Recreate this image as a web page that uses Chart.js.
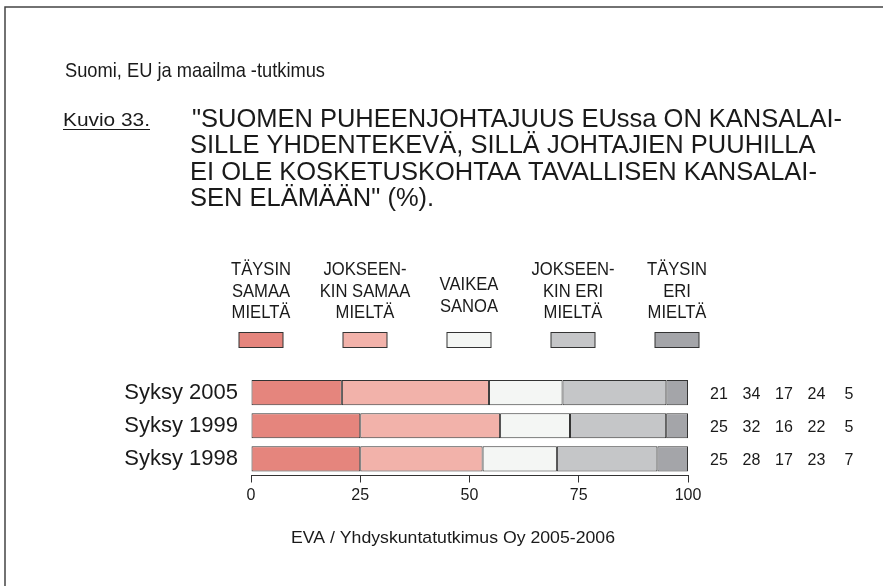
<!DOCTYPE html>
<html>
<head>
<meta charset="utf-8">
<script src="https://cdn.jsdelivr.net/npm/chart.js@4.4.1/dist/chart.umd.min.js"></script>
<style>
  html, body { margin: 0; padding: 0; background: #fff; }
  #wrap { width: 883px; height: 586px; position: relative; }
</style>
</head>
<body>
<div id="wrap"><canvas id="chart"></canvas></div>
<script>
// survey rounds, top to bottom
var years = ['Syksy 2005', 'Syksy 1999', 'Syksy 1998'];

// answer shares (%) per round, one array per answer
var taysinSamaa    = [21, 25, 25];
var jokseenSamaa   = [34, 32, 28];
var vaikeaSanoa    = [17, 16, 17];
var jokseenEri     = [24, 22, 23];
var taysinEri      = [5, 5, 7];

var answerLabels = [
  ['TÄYSIN', 'SAMAA', 'MIELTÄ'],
  ['JOKSEEN-', 'KIN SAMAA', 'MIELTÄ'],
  ['VAIKEA', 'SANOA'],
  ['JOKSEEN-', 'KIN ERI', 'MIELTÄ'],
  ['TÄYSIN', 'ERI', 'MIELTÄ']
];
var answerColors = ['#e5857d', '#f2b2aa', '#f4f6f4', '#c5c6c8', '#a4a5a9'];

var xTicks = [0, 25, 50, 75, 100];

var titleLines = [
  '"SUOMEN PUHEENJOHTAJUUS EUssa ON KANSALAI-',
  'SILLE YHDENTEKEVÄ, SILLÄ JOHTAJIEN PUUHILLA',
  'EI OLE KOSKETUSKOHTAA TAVALLISEN KANSALAI-',
  'SEN ELÄMÄÄN" (%).'
];

var series = [taysinSamaa, jokseenSamaa, vaikeaSanoa, jokseenEri, taysinEri];

// rows don't always add up to 100 because of rounding, bars are scaled to full width
var rowTotals = years.map(function (y, i) {
  return series.reduce(function (s, arr) { return s + arr[i]; }, 0);
});

var FONT = '"Liberation Sans", Arial, Helvetica, sans-serif';
var INK = '#1a1a1a';

function drawText(ctx, text, x, y, size, scaleX, align) {
  ctx.save();
  ctx.font = size + 'px ' + FONT;
  ctx.fillStyle = INK;
  ctx.textBaseline = 'alphabetic';
  ctx.textAlign = align || 'left';
  ctx.translate(x, y);
  ctx.scale(scaleX, 1);
  ctx.fillText(text, 0, 0);
  ctx.restore();
}

function widthScale(ctx, text, size, target) {
  ctx.font = size + 'px ' + FONT;
  return target / ctx.measureText(text).width;
}

var decorations = {
  id: 'decorations',
  afterDraw: function (chart) {
    var ctx = chart.ctx;
    var area = chart.chartArea;
    var yScale = chart.scales.y;

    // frame
    ctx.save();
    ctx.strokeStyle = '#444';
    ctx.lineWidth = 1.5;
    ctx.beginPath();
    ctx.moveTo(5, 600);
    ctx.lineTo(5, 7);
    ctx.lineTo(890, 7);
    ctx.stroke();
    ctx.restore();

    // headings
    var s = widthScale(ctx, 'Suomi, EU ja maailma -tutkimus', 21, 260);
    drawText(ctx, 'Suomi, EU ja maailma -tutkimus', 65, 77, 21, s);

    var ks = widthScale(ctx, 'Kuvio 33.', 19, 87);
    drawText(ctx, 'Kuvio 33.', 63, 126, 19, ks);
    ctx.save();
    ctx.strokeStyle = INK;
    ctx.lineWidth = 1;
    ctx.beginPath();
    ctx.moveTo(63, 129.5);
    ctx.lineTo(150, 129.5);
    ctx.stroke();
    ctx.restore();

    var ts = widthScale(ctx, titleLines[0], 26, 650);
    titleLines.forEach(function (line, i) {
      drawText(ctx, line, i === 0 ? 192 : 190, 127 + i * 26.3, 26, ts);
    });

    // legend
    chart.data.datasets.forEach(function (ds, i) {
      var cx = 261 + i * 104;
      var lines = ds.label;
      var first = lines.length === 3 ? 275 : 290;
      lines.forEach(function (l, j) {
        drawText(ctx, l, cx, first + j * 21.7, 19, 0.875, 'center');
      });
      ctx.save();
      ctx.fillStyle = ds.backgroundColor;
      ctx.strokeStyle = '#333';
      ctx.lineWidth = 1;
      ctx.fillRect(cx - 22, 332.5, 44, 15);
      ctx.strokeRect(cx - 22, 332.5, 44, 15);
      ctx.restore();
    });

    // values printed next to each bar
    years.forEach(function (y, row) {
      var yc = yScale.getPixelForValue(row) + 6;
      series.forEach(function (arr, k) {
        drawText(ctx, String(arr[row]), 719 + k * 32.5, yc, 16, 1, 'center');
      });
    });

    // source
    drawText(ctx, 'EVA / Yhdyskuntatutkimus Oy 2005-2006', 453, 543, 17, 1.04, 'center');
  }
};

new Chart(document.getElementById('chart'), {
  type: 'bar',
  data: {
    labels: years,
    datasets: series.map(function (arr, i) {
      return {
        label: answerLabels[i],
        data: arr.map(function (v, r) { return v / rowTotals[r] * 100; }),
        backgroundColor: answerColors[i],
        borderColor: '#333',
        borderWidth: 1,
        borderSkipped: false,
        categoryPercentage: 1,
        barPercentage: 0.76
      };
    })
  },
  options: {
    indexAxis: 'y',
    responsive: true,
    maintainAspectRatio: false,
    animation: false,
    layout: { padding: { top: 376, right: 195, left: 0, bottom: 0 } },
    plugins: {
      legend: { display: false },
      tooltip: { enabled: false }
    },
    scales: {
      x: {
        stacked: true,
        min: 0,
        max: 100,
        afterBuildTicks: function (scale) {
          scale.ticks = xTicks.map(function (v) { return { value: v }; });
        },
        afterFit: function (scale) { scale.height = 110.5; },
        grid: { drawOnChartArea: false, drawTicks: true, tickLength: 7, color: '#333', lineWidth: 1 },
        border: { display: true, color: '#333', width: 1 },
        ticks: { color: INK, font: { family: FONT, size: 16 }, padding: 3, maxRotation: 0 }
      },
      y: {
        stacked: true,
        afterFit: function (scale) { scale.width = 251; },
        grid: { display: false, drawTicks: false },
        border: { display: false },
        ticks: { color: INK, font: { family: FONT, size: 22 }, padding: 13 }
      }
    }
  },
  plugins: [decorations]
});
</script>
</body>
</html>
